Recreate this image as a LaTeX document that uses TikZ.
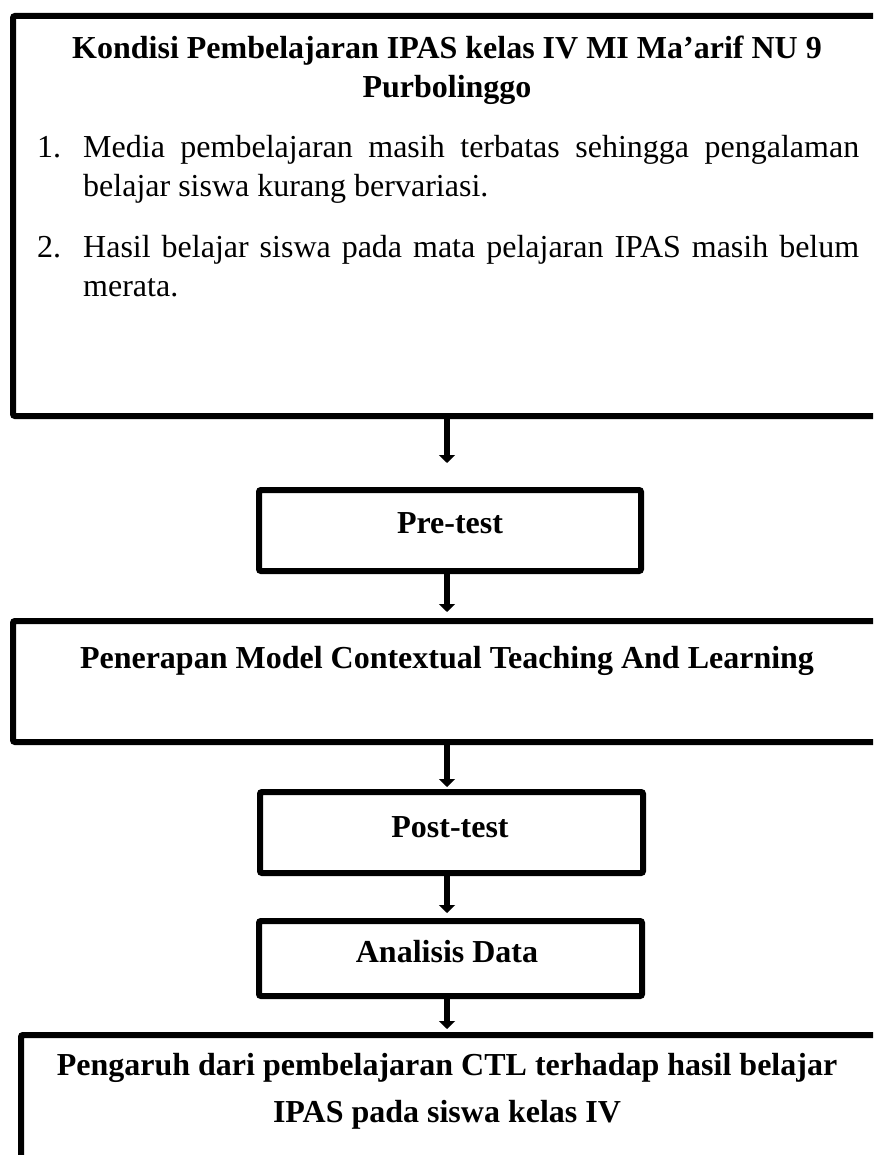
\documentclass[tikz,border=0pt]{standalone}
\usepackage{fontspec}
\setmainfont{Liberation Serif}
\usetikzlibrary{arrows.meta}
\begin{document}
\begin{tikzpicture}[x=1pt,y=-1pt,
  box/.style={draw, line width=6pt, rounded corners=2pt, inner sep=0pt},
  arr/.style={line width=6.5pt, -{Triangle[width=16pt,length=8pt]}},
  ttl/.style={font=\fontsize{32}{38}\selectfont\bfseries, inner sep=0pt, anchor=base},
  body/.style={font=\fontsize{32}{39}\selectfont, inner sep=0pt, anchor=base west}]
\useasboundingbox (0,0) rectangle (873,1155);
\clip (0,0) rectangle (873,1155);
% boxes
\node[box, minimum width=887pt, minimum height=400pt] (top) at (456.5,216) {};
\node[box, minimum width=382pt, minimum height=81pt] (pre) at (450,530.5) {};
\node[box, minimum width=887pt, minimum height=121pt] (ctl) at (456.5,681.5) {};
\node[box, minimum width=383pt, minimum height=81pt] (post) at (451.5,832.5) {};
\node[box, minimum width=383pt, minimum height=75pt] (ana) at (450.5,958.5) {};
\node[box, minimum width=879pt, minimum height=145pt] (fin) at (460.5,1107.5) {};
% texts
\node[ttl] (t1) at (447,59) {Kondisi Pembelajaran IPAS kelas IV MI Ma’arif NU 9};
\node[ttl] (t2) at (447,98) {Purbolinggo};
\node[body] (n1) at (37,158) {1.};
\node[body] (l1) at (83,158) {\makebox[776pt][s]{Media pembelajaran masih terbatas sehingga pengalaman}};
\node[body] (l2) at (83,197) {belajar siswa kurang bervariasi.};
\node[body] (n2) at (37,258) {2.};
\node[body] (l3) at (83,258) {\makebox[776pt][s]{Hasil belajar siswa pada mata pelajaran IPAS masih belum}};
\node[body] (l4) at (83,296) {merata.};
\node[ttl] (tpre) at (450,533) {Pre-test};
\node[ttl] (tctl) at (447,668) {Penerapan Model Contextual Teaching And Learning};
\node[ttl] (tpost) at (450,837) {Post-test};
\node[ttl] (tana) at (447,962) {Analisis Data};
\node[ttl] (tf1) at (447,1075) {Pengaruh dari pembelajaran CTL terhadap hasil belajar};
\node[ttl] (tf2) at (447,1122) {IPAS pada siswa kelas IV};
% arrows
\coordinate (a1) at (447,463);
\coordinate (a2) at (447,612);
\coordinate (a3) at (447,787);
\coordinate (a4) at (447,913);
\coordinate (a5) at (447,1029);
\draw[arr] (top.south -| a1) -- (a1);
\draw[arr] (pre.south -| a2) -- (a2);
\draw[arr] (ctl.south -| a3) -- (a3);
\draw[arr] (post.south -| a4) -- (a4);
\draw[arr] (ana.south -| a5) -- (a5);
\end{tikzpicture}
\end{document}
